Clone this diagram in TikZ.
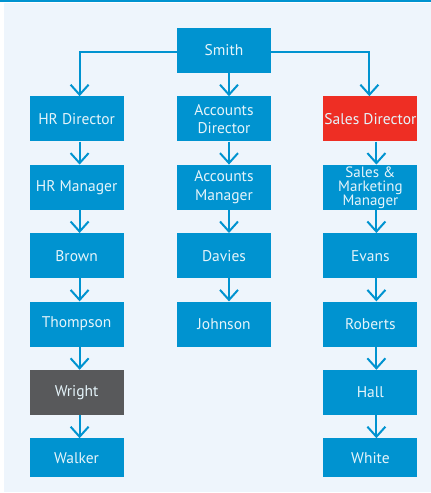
\documentclass[tikz,border=0pt]{standalone}
\usepackage{fontspec}
\setmainfont{PT Sans}
\usetikzlibrary{positioning,arrows.meta}
\definecolor{chartblue}{RGB}{0,147,208}
\definecolor{chartred}{RGB}{238,46,36}
\definecolor{chartgrey}{RGB}{88,89,91}
\definecolor{chartback}{RGB}{238,245,252}

\begin{document}
\begin{tikzpicture}[node distance=23pt and 53pt,
    post/.style={fill=chartblue, text=white!90!chartblue, minimum width=94pt, minimum height=45pt,
        inner sep=0pt, align=center, font=\fontsize{15.5}{18.5}\selectfont},
    link/.style={draw=chartblue, line width=2pt, -{Straight Barb[length=10pt,width=18pt]}}]
                    \useasboundingbox (0,0) rectangle (431pt,-493pt);
                    \fill[chartback] (4pt,-3pt) rectangle (431pt,-492pt);
                    \draw[chartblue, line width=2pt] (0,-1pt) -- (431pt,-1pt);
                    \node[post] (smith) at (224pt,-50pt) {Smith};
                    \node[post, below=23.5pt of smith] (accdir) {Accounts\\Director};
                    \node[post, left=of accdir] (hrdir) {HR Director};
                    \node[post, right=52pt of accdir, fill=chartred] (salesdir) {Sales Director};
                    \node[post, below=of hrdir] (hrman) {HR Manager};
                    \node[post, below=of hrman] (brown) {Brown};
                    \node[post, below=of brown] (thompson) {Thompson};
                    \node[post, below=of thompson, fill=chartgrey] (wright) {Wright};
                    \node[post, below=of wright, minimum height=39pt] (walker) {Walker};
                    \node[post, below=of accdir] (accman) {Accounts\\Manager};
                    \node[post, below=of accman] (davies) {Davies};
                    \node[post, below=of davies] (johnson) {Johnson};
                    \node[post, below=of salesdir, font=\fontsize{15}{14}\selectfont] (salesman) {Sales \&\\Marketing\\Manager};
                    \node[post, below=of salesman] (evans) {Evans};
                    \node[post, below=of evans] (roberts) {Roberts};
                    \node[post, below=of roberts] (hall) {Hall};
                    \node[post, below=of hall, minimum height=39pt] (white) {White};
                    \draw[link] ([yshift=-2pt]smith.west) -| ([xshift=3pt]hrdir.north);
                    \draw[link] ([xshift=5pt]smith.south) -- ([xshift=5pt]accdir.north);
                    \draw[link] ([yshift=-2pt]smith.east) -| ([xshift=-1pt]salesdir.north);
                    \foreach \a/\b in {hrdir/hrman, hrman/brown, brown/thompson, thompson/wright, wright/walker}
                        \draw[link] ([xshift=3pt]\a.south) -- ([xshift=3pt]\b.north);
                    \foreach \a/\b in {accdir/accman, accman/davies, davies/johnson}
                        \draw[link] ([xshift=5pt]\a.south) -- ([xshift=5pt]\b.north);
                    \foreach \a/\b in {salesdir/salesman, salesman/evans, evans/roberts, roberts/hall, hall/white}
                        \draw[link] ([xshift=6pt]\a.south) -- ([xshift=6pt]\b.north);
                \end{tikzpicture}
\end{document}
